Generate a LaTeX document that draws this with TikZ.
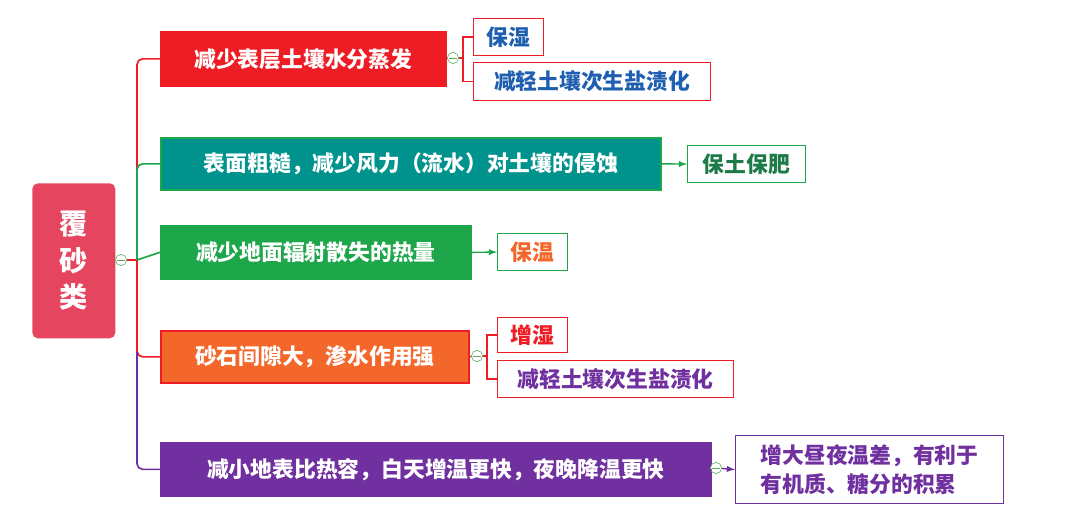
\documentclass[tikz,border=0pt]{standalone}
\usepackage{fontspec}
\setmainfont{Noto Sans CJK SC}
\usepackage{tikz}
\usetikzlibrary{calc, positioning, arrows}

\definecolor{rootred}{HTML}{E5455F}
\definecolor{brred}{HTML}{EE1C25}
\definecolor{brteal}{HTML}{00938E}
\definecolor{brgreen}{HTML}{1EA64A}
\definecolor{brorange}{HTML}{F4672A}
\definecolor{brpurple}{HTML}{7030A0}
\definecolor{txtblue}{HTML}{1F5FB0}
\definecolor{txtgreen}{HTML}{1E7B48}

\tikzset{
  branch/.style={draw, line width=1.2pt, text=white, font=\fontsize{15.5}{18}\selectfont\bfseries, inner sep=0pt, anchor=north west},
  leaf/.style={draw, line width=0.8pt, fill=white, font=\fontsize{15.5}{18}\selectfont\bfseries, inner sep=0pt, anchor=north west},
  fold/.style={circle, draw=gray!70!green, fill=white, minimum size=8pt, inner sep=0pt, path picture={\draw[gray!70!green] ($(path picture bounding box.west)+(1.5pt,0)$) -- ($(path picture bounding box.east)-(1.5pt,0)$);}}
}

\begin{document}
\begin{tikzpicture}[x=0.025cm, y=-0.025cm]
        \useasboundingbox (0,0) rectangle (1080,526);

        % root
        \node[fill=rootred, rounded corners=4pt, text=white, inner sep=0pt, anchor=north west, minimum width=2.075cm, minimum height=3.875cm, font=\fontsize{20}{26}\selectfont\bfseries, align=center](root) at (32,183){覆\\砂\\类};
        \node[fold](f0) at (121,260){};
        \coordinate (trunk) at (137,260);

        % branches
        \node[branch, fill=brred, draw=brred, minimum width=7.125cm, minimum height=1.35cm](b1) at (160,31){减少表层土壤水分蒸发};
        \node[branch, fill=brteal, draw=brgreen, minimum width=12.5cm, minimum height=1.3cm](b2) at (160,137){表面粗糙，减少风力（流水）对土壤的侵蚀};
        \node[branch, fill=brgreen, draw=brgreen, minimum width=7.75cm, minimum height=1.325cm](b3) at (160,225){减少地面辐射散失的热量};
        \node[branch, fill=brorange, draw=brred, minimum width=7.7cm, minimum height=1.3cm](b4) at (160,330){砂石间隙大，渗水作用强};
        \node[branch, fill=brpurple, draw=brpurple, minimum width=13.75cm, minimum height=1.325cm](b5) at (160,442){减小地表比热容，白天增温更快，夜晚降温更快};

        \draw[brred, line width=1.2pt] (f0) -- (trunk);
        \draw[brred, line width=1.2pt, rounded corners=4pt] (trunk) |- (b1.west);
        \draw[brgreen, line width=1.2pt, rounded corners=4pt] (trunk) |- (b2.west);
        \draw[brgreen, line width=1.2pt] (trunk) -- (b3.west);
        \draw[brred, line width=1.2pt, rounded corners=4pt] (trunk) |- (b4.west);
        \draw[brpurple, line width=1.2pt, rounded corners=4pt] (137,352) |- (b5.west);

        % leaves
        \node[leaf, draw=brred, text=txtblue, minimum width=1.75cm, minimum height=0.925cm](l1a) at (473,18){保湿};
        \node[leaf, draw=brred, text=txtblue, minimum width=5.925cm, minimum height=0.95cm](l1b) at (473,62){减轻土壤次生盐渍化};
        \node[leaf, draw=brgreen, text=txtgreen, minimum width=2.95cm, minimum height=0.925cm](l2) at (687,145){保土保肥};
        \node[leaf, draw=brgreen, text=brorange, minimum width=1.75cm, minimum height=0.925cm](l3) at (497,233){保温};
        \node[leaf, draw=brred, text=brred, minimum width=1.75cm, minimum height=0.875cm](l4a) at (497,317){增湿};
        \node[leaf, draw=brred, text=brpurple, minimum width=5.9cm, minimum height=0.925cm](l4b) at (497,360){减轻土壤次生盐渍化};
        \node[leaf, draw=brpurple, text=brpurple, minimum width=6.7cm, minimum height=1.7cm, align=left, font=\fontsize{15.5}{20}\selectfont\bfseries](l5) at (735,435){增大昼夜温差，有利于\\有机质、糖分的积累};

        % folds and links
        \node[fold](f1) at (453,58){};
        \node[fold](f4) at (477,356){};
        \node[fold](f5) at (716,468){};
        \draw[brred, line width=0.8pt] (b1.east) -- (f1);
        \draw[brred, line width=0.8pt] (b4.east) -- (f4);
        \draw[brpurple, line width=0.8pt] (b5.east) -- (f5);
        \draw[brred, line width=1pt] (f1) -- ++(10,0) |- (l1a.west);
        \draw[brred, line width=1pt] (f1) -- ++(10,0) |- (l1b.west);
        \draw[brred, line width=1pt] (f4) -- ++(10,0) |- (l4a.west);
        \draw[brred, line width=1pt] (f4) -- ++(10,0) |- (l4b.west);
        \draw[brgreen, line width=1pt, -latex] (b2.east) -- (l2.west);
        \draw[brgreen, line width=1pt, -latex] (b3.east) -- (l3.west);
        \draw[brpurple, line width=1pt, -latex] (f5) -- (l5.west);
    \end{tikzpicture}
\end{document}
